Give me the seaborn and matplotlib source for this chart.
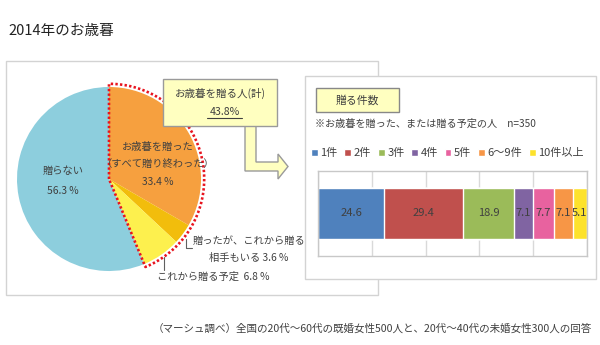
import numpy as np
import pandas as pd
import matplotlib
matplotlib.use("Agg")
import matplotlib.pyplot as plt
import seaborn as sns
from matplotlib.patches import Rectangle, Polygon
from matplotlib.lines import Line2D

# ---------------- data ----------------
title = "2014年のお歳暮"
pie_names = ["お歳暮を贈った", "贈ったが、これから贈る相手もいる", "これから贈る予定", "贈らない"]
pie_values = [33.4, 3.6, 6.8, 56.3]
pie_colors = ["#F6A03F", "#F2BD0C", "#FDF04E", "#8DCEDD"]
givers_total = 43.8

bar_categories = ["1件", "2件", "3件", "4件", "5件", "6～9件", "10件以上"]
bar_values = [24.6, 29.4, 18.9, 7.1, 7.7, 7.1, 5.1]
bar_colors = ["#4F81BD", "#C0504D", "#9BBB59", "#8064A2", "#E8629F", "#F79646", "#FDE22C"]

callout_title = "お歳暮を贈る人(計)"
bar_title = "贈る件数"
bar_note = "※お歳暮を贈った、または贈る予定の人　n=350"
footer = "（マーシュ調べ）全国の20代～60代の既婚女性500人と、20代～40代の未婚女性300人の回答"

# ---------------- style ----------------
sns.set_theme(style="white")
plt.rcParams['font.family'] = ['Noto Sans CJK JP', 'DejaVu Sans']
TXT = "#404040"

W, H = 600, 345
fig = plt.figure(figsize=(6, 3.45), dpi=100)
fig.patch.set_facecolor("white")


def frac_rect(x0, y0, x1, y1):
    return [x0 / W, (H - y1) / H, (x1 - x0) / W, (y1 - y0) / H]


# background overlay (pixel coords, y down)
ax_bg = fig.add_axes([0, 0, 1, 1], zorder=0)
ax_bg.set_xlim(0, W)
ax_bg.set_ylim(H, 0)
ax_bg.axis("off")

# foreground overlay
ax_fg = fig.add_axes([0, 0, 1, 1], zorder=5)
ax_fg.set_xlim(0, W)
ax_fg.set_ylim(H, 0)
ax_fg.axis("off")
ax_fg.patch.set_alpha(0)

# title
ax_bg.text(8, 31, title, fontsize=10.5, color="#222222", ha="left", va="center")

# panels
ax_bg.add_patch(Rectangle((6, 61), 372, 234, facecolor="white", edgecolor="#D3D3D3", lw=1, zorder=1))
ax_bg.add_patch(Rectangle((305, 76), 291, 203, facecolor="white", edgecolor="#D3D3D3", lw=1, zorder=2))

# ---------------- pie ----------------
cx, cy, r = 109, 179, 92
ax_p = fig.add_axes(frac_rect(cx - r, cy - r, cx + r, cy + r), zorder=1)
ax_p.pie(pie_values, colors=pie_colors, startangle=90, counterclock=False, radius=1,
         wedgeprops=dict(linewidth=0))
ax_p.set_xlim(-1, 1)
ax_p.set_ylim(-1, 1)
ax_p.set_aspect("equal")
ax_p.axis("off")

# red dotted outline around "givers" wedges
frac_give = sum(pie_values[:3]) / sum(pie_values)
th = np.linspace(np.pi / 2, np.pi / 2 - 2 * np.pi * frac_give, 200)
ro = 1.035
xs = np.concatenate([[0, 0], ro * np.cos(th), [0]])
ys = np.concatenate([[0, ro], ro * np.sin(th), [0]])
ax_p.add_line(Line2D(xs, ys, color="#E8141E", lw=1.9, linestyle=(0, (0.9, 0.85)),
                     dash_capstyle="butt", clip_on=False, zorder=5))

# pie labels
fs_pie = 7.4
ax_fg.text(63, 171, pie_names[3], fontsize=fs_pie, color=TXT, ha="center", va="center")
ax_fg.text(63, 191, f"{pie_values[3]} %", fontsize=fs_pie, color=TXT, ha="center", va="center")
ax_fg.text(158, 147, pie_names[0], fontsize=fs_pie, color=TXT, ha="center", va="center")
ax_fg.text(158, 164, "（すべて贈り終わった）", fontsize=fs_pie, color=TXT, ha="center", va="center")
ax_fg.text(158, 182, f"{pie_values[0]} %", fontsize=fs_pie, color=TXT, ha="center", va="center")
ax_fg.text(249, 241, "贈ったが、これから贈る", fontsize=fs_pie, color=TXT, ha="center", va="center")
ax_fg.text(249, 258, f"相手もいる {pie_values[1]} %", fontsize=fs_pie, color=TXT, ha="center", va="center")
ax_fg.text(157, 277, f"{pie_names[2]}  {pie_values[2]} %", fontsize=fs_pie, color=TXT, ha="left", va="center")
# leader lines
ax_fg.plot([186, 186, 192], [239, 248, 248], color="#606060", lw=0.8)
ax_fg.plot([164, 164], [257, 270], color="#606060", lw=0.8)

# callout arrow + box
arrow = [(245, 120), (256, 120), (256, 162), (278, 162), (278, 154), (288, 166.5),
         (278, 179), (278, 171), (245, 171)]
ax_fg.add_patch(Polygon(arrow, closed=True, facecolor="#FFFFC0", edgecolor="#9A9A9A", lw=1, zorder=1))
ax_fg.add_patch(Rectangle((163, 79), 114, 47, facecolor="#FFFFC0", edgecolor="#9A9A9A", lw=1, zorder=2))
ax_fg.text(220, 93, callout_title, fontsize=7.6, color=TXT, ha="center", va="center", zorder=3)
ax_fg.text(224.5, 112, f"{givers_total}%", fontsize=7.6, color=TXT, ha="center", va="center", zorder=3)
ax_fg.plot([207, 242], [118, 118], color=TXT, lw=0.8, zorder=3)

# right panel header
ax_fg.add_patch(Rectangle((316, 88), 83, 24, facecolor="#FFFFC0", edgecolor="#888888", lw=1, zorder=2))
ax_fg.text(357.5, 100, bar_title, fontsize=7.8, color=TXT, ha="center", va="center", zorder=3)
ax_fg.text(315, 124, bar_note, fontsize=7.3, color=TXT, ha="left", va="center")

# ---------------- stacked bar ----------------
ax_b = fig.add_axes(frac_rect(318, 171, 587, 256), zorder=3)
df = pd.DataFrame({"cat": bar_categories, "val": bar_values, "color": bar_colors})
df["cum"] = df["val"].cumsum()
df["mid"] = df["cum"] - df["val"] / 2
for _, row in df.iloc[::-1].iterrows():
    sns.barplot(data=pd.DataFrame({"cum": [row["cum"]], "row": [""]}), x="cum", y="row",
                orient="h", color=row["color"], saturation=1, width=0.59,
                ax=ax_b, label=row["cat"], zorder=2)
for _, row in df.iterrows():
    ax_b.text(row["mid"], 0, f"{row['val']}", ha="center", va="center", fontsize=8, color=TXT, zorder=4)

ax_b.set_xlim(0, 100)
ax_b.set_ylim(0.5, -0.5)
ax_b.set_xticks([0, 20, 40, 60, 80, 100])
ax_b.set_xticklabels([])
ax_b.set_yticks([])
ax_b.set_xlabel("")
ax_b.set_ylabel("")
ax_b.tick_params(length=0)
ax_b.grid(axis="x", color="#D9D9D9", lw=1)
ax_b.set_axisbelow(True)
for s in ax_b.spines.values():
    s.set_color("#C8C8C8")
    s.set_linewidth(1)
    s.set_visible(True)

handles, labels = ax_b.get_legend_handles_labels()
order = [labels.index(c) for c in bar_categories]
ax_b.legend([handles[i] for i in order], [labels[i] for i in order],
            loc="center left", bbox_to_anchor=(311 / W, (H - 153) / H), bbox_transform=fig.transFigure,
            ncol=7, frameon=False, fontsize=8, handlelength=0.6, handleheight=0.6,
            handletextpad=0.25, columnspacing=0.6, borderpad=0, borderaxespad=0,
            labelcolor=TXT)

# footer
ax_fg.text(592, 329, footer, fontsize=7.6, color=TXT, ha="right", va="center")

fig.savefig("out.png", dpi=100, facecolor="white")
